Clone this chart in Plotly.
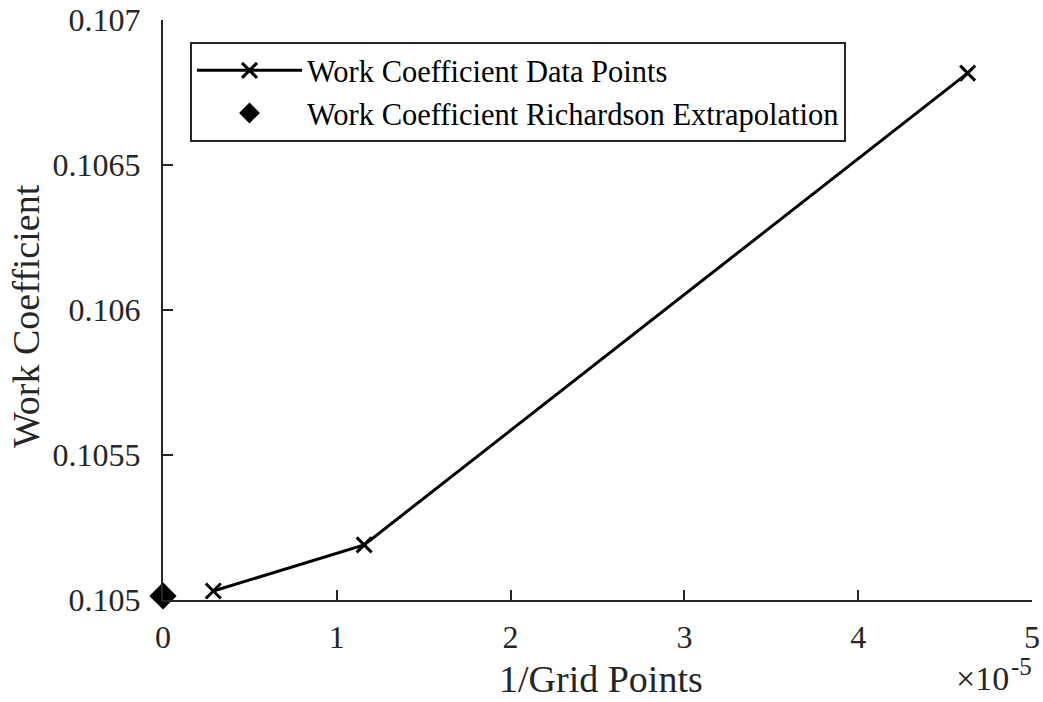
import plotly.graph_objects as go

# Data
inv_grid_points = [1/345600, 1/86400, 1/21600]
work_coeff = [0.105031, 0.105190, 0.106817]
rich_x = [0.0]
rich_y = [0.105014]

x_tick_vals = [0, 1e-5, 2e-5, 3e-5, 4e-5, 5e-5]
x_tick_text = ["0", "1", "2", "3", "4", "5"]
y_tick_vals = [0.105, 0.1055, 0.106, 0.1065, 0.107]
y_tick_text = ["0.105", "0.1055", "0.106", "0.1065", "0.107"]

FONT = "Liberation Serif"
AX = "#262626"

# plot area in pixels: x 163..1032, y 20..600
L, R, T, B = 163, 11, 20, 102
W, H = 1043, 702
PW, PH = W - L - R, H - T - B


def px(xp):
    return (xp - L) / PW


def py(yp):
    return (H - B - yp) / PH


fig = go.Figure()
fig.add_trace(go.Scatter(
    x=inv_grid_points, y=work_coeff, mode="lines+markers",
    name="Work Coefficient Data Points",
    line=dict(color="black", width=3),
    marker=dict(symbol="x-thin", size=15, line=dict(color="black", width=3), color="black"),
    cliponaxis=False,
))
fig.add_trace(go.Scatter(
    x=rich_x, y=rich_y, mode="markers",
    name="Work Coefficient Richardson Extrapolation",
    marker=dict(symbol="diamond", size=21, color="black", line=dict(width=0)),
    cliponaxis=False,
))

fig.update_layout(
    width=W, height=H,
    margin=dict(l=L, r=R, t=T, b=B, autoexpand=False),
    paper_bgcolor="white", plot_bgcolor="white",
    font=dict(family=FONT, color=AX, size=32),
    showlegend=True,
    legend=dict(
        x=px(190), y=py(42), xanchor="left", yanchor="top",
        bgcolor="white", bordercolor=AX, borderwidth=2,
        font=dict(family=FONT, size=30.5, color="black"),
        itemwidth=105, tracegroupgap=0,
    ),
    xaxis=dict(
        range=[0, 5e-5], tickvals=x_tick_vals, ticktext=x_tick_text,
        showgrid=False, zeroline=False, showline=True, linecolor=AX, linewidth=2,
        ticks="inside", ticklen=10, tickwidth=2, tickcolor=AX, automargin=False,
        tickfont=dict(family=FONT, size=32, color=AX), ticklabelstandoff=8,
    ),
    yaxis=dict(
        range=[0.105, 0.107], tickvals=y_tick_vals, ticktext=y_tick_text,
        showgrid=False, zeroline=False, showline=True, linecolor=AX, linewidth=2,
        ticks="inside", ticklen=10, tickwidth=2, tickcolor=AX, automargin=False,
        tickfont=dict(family=FONT, size=32, color=AX), ticklabelstandoff=14,
    ),
    annotations=[
        dict(text="1/Grid Points", xref="paper", yref="paper", x=px(601), y=py(679),
             xanchor="center", yanchor="middle", showarrow=False,
             font=dict(family=FONT, size=38, color=AX)),
        dict(text="Work Coefficient", xref="paper", yref="paper", x=px(26), y=py(316),
             xanchor="center", yanchor="middle", showarrow=False, textangle=-90,
             font=dict(family=FONT, size=38, color=AX)),
        dict(text="×10", xref="paper", yref="paper", x=px(1011), y=py(679),
             xanchor="right", yanchor="middle", showarrow=False,
             font=dict(family=FONT, size=34, color=AX)),
        dict(text="-5", xref="paper", yref="paper", x=px(1009), y=py(666),
             xanchor="left", yanchor="middle", showarrow=False,
             font=dict(family=FONT, size=25, color=AX)),
    ],
)

fig.write_html("out.html")
